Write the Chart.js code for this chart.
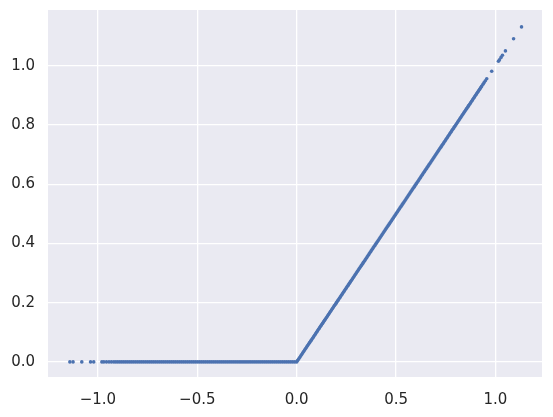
<!DOCTYPE html>
<html>
<head>
<meta charset="utf-8">
<script src="https://cdn.jsdelivr.net/npm/chart.js@4/dist/chart.umd.min.js"></script>
<style>
html,body{margin:0;padding:0;background:#ffffff;}
#wrap{width:553px;height:417px;position:relative;}
</style>
</head>
<body>
<div id="wrap"><canvas id="c" width="553" height="417"></canvas></div>
<script>
// Tick labels
const xTicks = [-1.0, -0.5, 0.0, 0.5, 1.0];
const yTicks = [0.0, 0.2, 0.4, 0.6, 0.8, 1.0];

// Sparse left tail
const leftTailX = [-1.141, -1.125, -1.081, -1.037, -1.021, -0.980, -0.970, -0.957, -0.944, -0.932];
const leftTailY = [0, 0, 0, 0, 0, 0, 0, 0, 0, 0];

// Dense flat part (x < 0)
const flatX = [-0.92,-0.91,-0.90,-0.89,-0.88,-0.87,-0.86,-0.85,-0.84,-0.83,-0.82,-0.81,-0.80,-0.79,-0.78,-0.77,-0.76,-0.75,-0.74,-0.73,-0.72,-0.71,-0.70,-0.69,-0.68,-0.67,-0.66,-0.65,-0.64,-0.63,-0.62,-0.61,-0.60,-0.59,-0.58,-0.57,-0.56,-0.55,-0.54,-0.53,-0.52,-0.51,-0.50,-0.49,-0.48,-0.47,-0.46,-0.45,-0.44,-0.43,-0.42,-0.41,-0.40,-0.39,-0.38,-0.37,-0.36,-0.35,-0.34,-0.33,-0.32,-0.31,-0.30,-0.29,-0.28,-0.27,-0.26,-0.25,-0.24,-0.23,-0.22,-0.21,-0.20,-0.19,-0.18,-0.17,-0.16,-0.15,-0.14,-0.13,-0.12,-0.11,-0.10,-0.09,-0.08,-0.07,-0.06,-0.05,-0.04,-0.03,-0.02,-0.01];
const flatY = [0,0,0,0,0,0,0,0,0,0,0,0,0,0,0,0,0,0,0,0,0,0,0,0,0,0,0,0,0,0,0,0,0,0,0,0,0,0,0,0,0,0,0,0,0,0,0,0,0,0,0,0,0,0,0,0,0,0,0,0,0,0,0,0,0,0,0,0,0,0,0,0,0,0,0,0,0,0,0,0,0,0,0,0,0,0,0,0,0,0,0,0];

// Dense rising part (x >= 0)
const riseX = [0,0.005,0.01,0.015,0.02,0.025,0.03,0.035,0.04,0.045,
0.05,0.055,0.06,0.065,0.07,0.075,0.08,0.085,0.09,0.095,
0.1,0.105,0.11,0.115,0.12,0.125,0.13,0.135,0.14,0.145,
0.15,0.155,0.16,0.165,0.17,0.175,0.18,0.185,0.19,0.195,
0.2,0.205,0.21,0.215,0.22,0.225,0.23,0.235,0.24,0.245,
0.25,0.255,0.26,0.265,0.27,0.275,0.28,0.285,0.29,0.295,
0.3,0.305,0.31,0.315,0.32,0.325,0.33,0.335,0.34,0.345,
0.35,0.355,0.36,0.365,0.37,0.375,0.38,0.385,0.39,0.395,
0.4,0.405,0.41,0.415,0.42,0.425,0.43,0.435,0.44,0.445,
0.45,0.455,0.46,0.465,0.47,0.475,0.48,0.485,0.49,0.495,
0.5,0.505,0.51,0.515,0.52,0.525,0.53,0.535,0.54,0.545,
0.55,0.555,0.56,0.565,0.57,0.575,0.58,0.585,0.59,0.595,
0.6,0.605,0.61,0.615,0.62,0.625,0.63,0.635,0.64,0.645,
0.65,0.655,0.66,0.665,0.67,0.675,0.68,0.685,0.69,0.695,
0.7,0.705,0.71,0.715,0.72,0.725,0.73,0.735,0.74,0.745,
0.75,0.755,0.76,0.765,0.77,0.775,0.78,0.785,0.79,0.795,
0.8,0.805,0.81,0.815,0.82,0.825,0.83,0.835,0.84,0.845,
0.85,0.855,0.86,0.865,0.87,0.875,0.88,0.885,0.89,0.895,
0.9,0.905,0.91,0.915,0.92,0.925,0.93];
const riseY = [0,0.005,0.01,0.015,0.02,0.025,0.03,0.035,0.04,0.045,
0.05,0.055,0.06,0.065,0.07,0.075,0.08,0.085,0.09,0.095,
0.1,0.105,0.11,0.115,0.12,0.125,0.13,0.135,0.14,0.145,
0.15,0.155,0.16,0.165,0.17,0.175,0.18,0.185,0.19,0.195,
0.2,0.205,0.21,0.215,0.22,0.225,0.23,0.235,0.24,0.245,
0.25,0.255,0.26,0.265,0.27,0.275,0.28,0.285,0.29,0.295,
0.3,0.305,0.31,0.315,0.32,0.325,0.33,0.335,0.34,0.345,
0.35,0.355,0.36,0.365,0.37,0.375,0.38,0.385,0.39,0.395,
0.4,0.405,0.41,0.415,0.42,0.425,0.43,0.435,0.44,0.445,
0.45,0.455,0.46,0.465,0.47,0.475,0.48,0.485,0.49,0.495,
0.5,0.505,0.51,0.515,0.52,0.525,0.53,0.535,0.54,0.545,
0.55,0.555,0.56,0.565,0.57,0.575,0.58,0.585,0.59,0.595,
0.6,0.605,0.61,0.615,0.62,0.625,0.63,0.635,0.64,0.645,
0.65,0.655,0.66,0.665,0.67,0.675,0.68,0.685,0.69,0.695,
0.7,0.705,0.71,0.715,0.72,0.725,0.73,0.735,0.74,0.745,
0.75,0.755,0.76,0.765,0.77,0.775,0.78,0.785,0.79,0.795,
0.8,0.805,0.81,0.815,0.82,0.825,0.83,0.835,0.84,0.845,
0.85,0.855,0.86,0.865,0.87,0.875,0.88,0.885,0.89,0.895,
0.9,0.905,0.91,0.915,0.92,0.925,0.93];

// Sparse right tail
const rightTailX = [0.937, 0.943, 0.949, 0.956, 0.981, 1.015, 1.020, 1.028, 1.035, 1.050, 1.091, 1.131];
const rightTailY = [0.937, 0.943, 0.949, 0.956, 0.981, 1.015, 1.020, 1.028, 1.035, 1.050, 1.091, 1.131];

const allX = [].concat(leftTailX, flatX, riseX, rightTailX);
const allY = [].concat(leftTailY, flatY, riseY, rightTailY);
const points = allX.map((x, i) => ({x: x, y: allY[i]}));

const fmt = v => (v < 0 ? '\u2212' + Math.abs(v).toFixed(1) : v.toFixed(1));

const bgPlugin = {
  id: 'bg',
  beforeDraw(chart) {
    const {ctx, chartArea: a} = chart;
    ctx.save();
    ctx.fillStyle = '#EAEAF2';
    ctx.fillRect(a.left, a.top, a.right - a.left, a.bottom - a.top);
    ctx.restore();
  }
};

new Chart(document.getElementById('c'), {
  type: 'scatter',
  data: {
    datasets: [{
      data: points,
      backgroundColor: '#4C72B0',
      borderColor: '#4C72B0',
      borderWidth: 0,
      pointRadius: 1.8,
      pointHoverRadius: 1.8
    }]
  },
  options: {
    responsive: false,
    animation: false,
    devicePixelRatio: 1,
    layout: {padding: {top: 10, right: 11, left: 0, bottom: 0}},
    plugins: {legend: {display: false}, tooltip: {enabled: false}},
    scales: {
      x: {
        type: 'linear',
        min: -1.251, max: 1.234,
        afterFit(s) { s.height = 40; s.paddingLeft = 0; s.paddingRight = 0; },
        afterBuildTicks(s) { s.ticks = xTicks.map(v => ({value: v})); },
        border: {display: false},
        grid: {color: '#ffffff', lineWidth: 1.3, drawTicks: false},
        ticks: {
          padding: 14,
          color: '#262626',
          font: {family: 'DejaVu Sans', size: 15},
          maxRotation: 0,
          callback: v => fmt(v)
        }
      },
      y: {
        type: 'linear',
        min: -0.051, max: 1.188,
        afterFit(s) { s.width = 48; s.paddingTop = 0; s.paddingBottom = 0; },
        afterBuildTicks(s) { s.ticks = yTicks.map(v => ({value: v})); },
        border: {display: false},
        grid: {color: '#ffffff', lineWidth: 1.3, drawTicks: false},
        ticks: {
          padding: 13,
          color: '#262626',
          font: {family: 'DejaVu Sans', size: 15},
          callback: v => fmt(v)
        }
      }
    }
  },
  plugins: [bgPlugin]
});
</script>
</body>
</html>
